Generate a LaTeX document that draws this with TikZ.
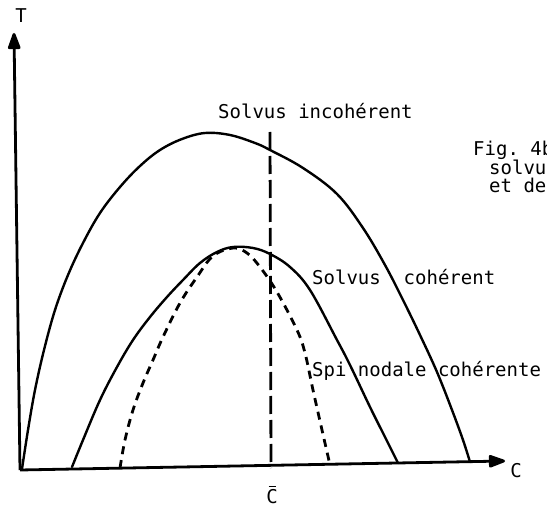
\documentclass[tikz,border=0pt]{standalone}
\usepackage{fontspec}
\setmonofont{DejaVu Sans Mono}
\usetikzlibrary{arrows.meta}
\begin{document}
\begin{tikzpicture}[x=1pt,y=-1pt,
  lbl/.style={font=\ttfamily\fontsize{19}{21}\selectfont, inner sep=0pt, anchor=base west},
  clbl/.style={font=\ttfamily\fontsize{19}{21}\selectfont, inner sep=0pt, anchor=base},
  axis/.style={line width=2.8pt, -{Triangle[length=19pt,width=13pt,round]}},
  curve/.style={line width=2.4pt, line cap=round, line join=round},
  spin/.style={line width=2.8pt, dash pattern=on 8pt off 6pt},
  vdash/.style={line width=2.8pt, dash pattern=on 18pt off 6pt}]
\useasboundingbox (0,0) rectangle (547,508);
\clip (0,0) rectangle (547,508);
\fill[white] (0,0) rectangle (547,508);
% axes
\coordinate (O) at (20,470);
\coordinate (Ttip) at (14,33);
\coordinate (Ctip) at (505,461);
\draw[axis] (O) -- (Ttip);
\draw[axis] (O) -- (Ctip);
\node[clbl] (T) at (21,23) {T};
\node[clbl] (C) at (516,477) {C};
\node[clbl] (Cbar) at (272,503) {C};
\draw[line width=1.2pt] ([xshift=-3.5pt,yshift=2.5pt]Cbar.north) -- ([xshift=3.5pt,yshift=2.5pt]Cbar.north);
% outer solvus (incoherent)
\draw[curve] plot[smooth, tension=0.6] coordinates {(22,469) (28,430) (35,390) (44,350) (55,310) (68,275) (83,243) (100,213) (120,187) (140,166) (160,150) (182,139) (205,133) (230,135) (255,143) (270,150) (303,168) (337,194) (363,228) (385,265) (403,300) (420,335) (437,372) (452,410) (463,440) (470,462)};
% inner solvus (coherent)
\draw[curve] plot[smooth, tension=0.6] coordinates {(72,467) (83,440) (100,400) (117,367) (133,340) (150,317) (167,297) (183,280) (200,263) (217,252) (233,247) (253,248) (270,254) (290,267) (310,290) (337,340) (350,365) (370,407) (385,437) (398,463)};
% spinodal
\draw[spin] plot[smooth, tension=0.6] coordinates {(120,468) (125,440) (133,410) (143,383) (153,360) (163,337) (180,303) (197,277) (213,256) (233,248) (247,253) (260,267) (277,292) (297,330) (305,353) (313,390) (322,430) (330,465)};
% vertical line at C bar
\coordinate (Vtop) at (270,132);
\coordinate (Vbot) at (271,468);
\draw[vdash] (Vtop) -- (Vbot);
% labels
\node[lbl] (inc) at (218,119) {Solvus incohérent};
\node[lbl] (coh) at (312,284) {Solvus\ \ cohérent};
\node[lbl] (spi) at (312,376) {Spi nodale cohérente};
\node[lbl] (fig1) at (473,156) {Fig. 4b};
\node[lbl] (fig2) at (489,175) {solvu};
\node[lbl] (fig3) at (489,193) {et de};
\end{tikzpicture}
\end{document}
